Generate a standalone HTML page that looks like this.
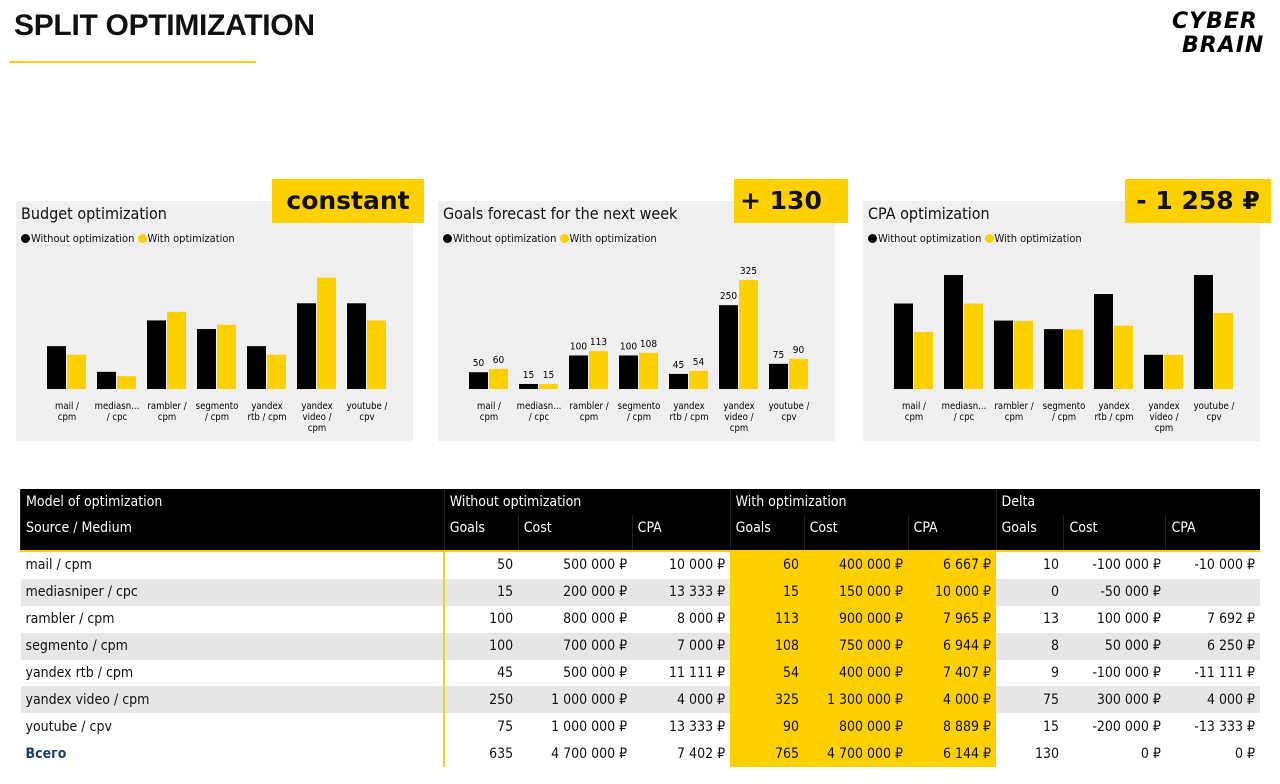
<!DOCTYPE html>
<html><head><meta charset="utf-8">
<style>
body{margin:0;width:1280px;height:784px;background:#fff;position:relative;overflow:hidden;font-family:"DejaVu Sans Condensed","DejaVu Sans","Liberation Sans",sans-serif;color:#111}
.abs{position:absolute}
.title{left:14px;top:9px;font:bold 30px "Liberation Sans",sans-serif;letter-spacing:-0.3px}
.uline{left:9px;top:61px;width:247px;height:2px;background:#f5cf1a}
.panel{background:#efefef;top:201px;width:397px;height:240px}
.ptitle{font-size:16px;left:5px;top:3px;white-space:nowrap}
.legend{font-size:11px;left:5px;top:31px;white-space:nowrap}
.dot{display:inline-block;width:9px;height:9px;border-radius:50%;vertical-align:-1px;margin-right:1px}
.call{background:#ffd000;top:179px;height:44px;font:bold 25px "DejaVu Sans",sans-serif;line-height:44px;text-align:center}
table{position:absolute;left:20px;top:489px;width:1240px;border-collapse:collapse;font-size:14px}
td{padding:0 5px;height:26.9px;white-space:nowrap}
thead td{background:#000;color:#fff;height:26px;border-left:1px solid #222}
thead tr.h2 td{height:30px;vertical-align:top;padding-top:5px}
tbody td{text-align:right}
tbody td:first-child{text-align:left}
tbody tr.g td{background:#e6e6e6}
tbody td.y{background:#ffd000 !important}
tbody td.bl{border-left:2px solid #f5cf1a}
tbody tr:first-child td{border-top:2px solid #f5cf1a}
</style></head><body>
<div class="abs title">SPLIT OPTIMIZATION</div>
<div class="abs uline"></div>
<svg class="abs" style="left:1168px;top:6px" width="102" height="50">
<text x="4" y="22" font-family="DejaVu Sans" font-weight="bold" font-size="22" font-style="italic" letter-spacing="1">CYBER</text>
<text x="14" y="46" font-family="DejaVu Sans" font-weight="bold" font-size="22" font-style="italic" letter-spacing="1">BRAIN</text>
</svg>

<div id="p1" class="abs panel" style="left:16px">
<div class="abs ptitle">Budget optimization</div>
<div class="abs legend"><span class="dot" style="background:#000"></span>Without optimization <span class="dot" style="background:#ffd000"></span>With optimization</div>
</div>
<div id="p2" class="abs panel" style="left:438px">
<div class="abs ptitle">Goals forecast for the next week</div>
<div class="abs legend"><span class="dot" style="background:#000"></span>Without optimization <span class="dot" style="background:#ffd000"></span>With optimization</div>
</div>
<div id="p3" class="abs panel" style="left:863px">
<div class="abs ptitle">CPA optimization</div>
<div class="abs legend"><span class="dot" style="background:#000"></span>Without optimization <span class="dot" style="background:#ffd000"></span>With optimization</div>
</div>
<div class="abs call" style="left:272px;width:152px">constant</div>
<div class="abs call" style="left:734px;width:114px;text-align:left;padding-left:6px;box-sizing:border-box">+ 130</div>
<div class="abs call" style="left:1125px;width:146px">- 1 258 ₽</div>

<table>
<colgroup><col style="width:424px"><col style="width:74px"><col style="width:114px"><col style="width:98px"><col style="width:74px"><col style="width:104px"><col style="width:88px"><col style="width:68px"><col style="width:102px"><col style="width:94px"></colgroup>
<thead>
<tr><td>Model of optimization</td><td colspan="3">Without optimization</td><td colspan="3">With optimization</td><td colspan="3">Delta</td></tr>
<tr class="h2"><td>Source / Medium</td><td>Goals</td><td>Cost</td><td>CPA</td><td>Goals</td><td>Cost</td><td>CPA</td><td>Goals</td><td>Cost</td><td>CPA</td></tr>
</thead>
<tbody id="tb"></tbody>
</table>

<script>
const categories=["mail / cpm","mediasniper / cpc","rambler / cpm","segmento / cpm","yandex rtb / cpm","yandex video / cpm","youtube / cpv"];
const axisLabels=[["mail /","cpm"],["mediasn...","/ cpc"],["rambler /","cpm"],["segmento","/ cpm"],["yandex","rtb / cpm"],["yandex","video /","cpm"],["youtube /","cpv"]];
const goalsWithout=[50,15,100,100,45,250,75];
const goalsWith=[60,15,113,108,54,325,90];
const costWithout=[500000,200000,800000,700000,500000,1000000,1000000];
const costWith=[400000,150000,900000,750000,400000,1300000,800000];
const cpaWithout=[10000,13333,8000,7000,11111,4000,13333];
const cpaWith=[6667,10000,7965,6944,7407,4000,8889];
const deltaCpa=[-10000,null,7692,6250,-11111,4000,-13333,0];
const totals=["Всего",635,4700000,7402,765,4700000,6144];
const NS="http://www.w3.org/2000/svg";
function chart(id,a,b,max,labels,name){
  const p=document.getElementById(id);
  const s=document.createElementNS(NS,"svg");
  s.setAttribute("width","397");s.setAttribute("height","240");
  s.style.position="absolute";s.style.left="0";s.style.top="0";
  
  
  const base=188,H=114;
  const y=v=>base-v/max*H;
  categories.forEach((c,i)=>{
    const cx=51+i*50;
    [[a[i],"#000",cx-20],[b[i],"#ffd000",cx]].forEach(([v,col,x],k)=>{
      const r=document.createElementNS(NS,"rect");
      r.setAttribute("x",x);r.setAttribute("y",y(v));r.setAttribute("width",19);r.setAttribute("height",base-y(v));r.setAttribute("fill",col);
      
      
      s.appendChild(r);
      if(labels){const t=document.createElementNS(NS,"text");
        t.setAttribute("x",x+9.5);t.setAttribute("y",y(v)-6);t.setAttribute("text-anchor","middle");t.setAttribute("font-size","10");
        t.textContent=v;
        
        
        s.appendChild(t);}
    });
    axisLabels[i].forEach((ln,j)=>{const t=document.createElementNS(NS,"text");
      t.setAttribute("x",cx);t.setAttribute("y",208+j*11);t.setAttribute("text-anchor","middle");t.setAttribute("font-size","9.5");
      t.textContent=ln;
      
      
      s.appendChild(t);});
  });
  p.appendChild(s);
}
chart("p1",costWithout,costWith,1330000,false,"budget");
chart("p2",goalsWithout,goalsWith,340,true,"goals");
chart("p3",cpaWithout,cpaWith,13333,false,"cpa");

const fmt=n=>String(Math.abs(n)).replace(/\B(?=(\d{3})+(?!\d))/g," ");
const money=n=>(n<0?"-":"")+fmt(n)+" ₽";
const tb=document.getElementById("tb");
const rowsData=categories.map((c,i)=>[c,goalsWithout[i],costWithout[i],cpaWithout[i],goalsWith[i],costWith[i],cpaWith[i]]);
rowsData.push(totals);
rowsData.forEach((r,i)=>{
  const tr=document.createElement("tr");
  if(i%2===1&&i<7)tr.className="g";
  
  
  const dc=r[5]-r[2];
  const cells=[r[0],r[1],money(r[2]),money(r[3]),r[4],money(r[5]),money(r[6]),r[4]-r[1],money(dc),deltaCpa[i]===null?"":money(deltaCpa[i])];
  cells.forEach((v,k)=>{const td=document.createElement("td");td.textContent=v;
    if(k>=4&&k<=6)td.className="y";if(k===1)td.className="bl";
    if(i===7&&k===0){td.style.color="#1d3b6e";td.style.fontWeight="bold";}
    tr.appendChild(td);});
  tb.appendChild(tr);
});
</script>
</body></html>
